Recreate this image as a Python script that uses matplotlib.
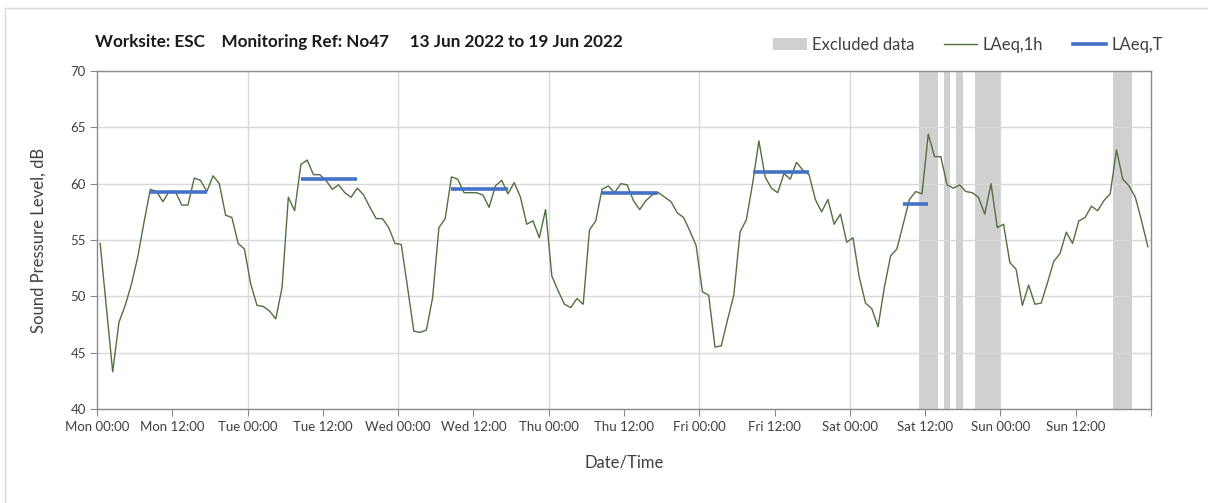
import matplotlib
matplotlib.use('Agg')
import matplotlib.pyplot as plt
from matplotlib.patches import Patch
from matplotlib.lines import Line2D
import numpy as np

plt.rcParams['font.family'] = ['Lato', 'DejaVu Sans']

# hourly LAeq,1h values, Mon 00:00 .. Sun 23:00
mon = [54.7, 49.0, 43.3, 47.7, 49.2, 51.1, 53.5, 56.6, 59.5, 59.3, 58.4, 59.3,
       59.3, 58.1, 58.1, 60.5, 60.3, 59.3, 60.7, 60.0, 57.2, 57.0, 54.7, 54.2]
tue = [51.1, 49.2, 49.1, 48.7, 48.0, 50.8, 58.8, 57.6, 61.7, 62.1, 60.8, 60.8,
       60.3, 59.5, 59.9, 59.2, 58.8, 59.6, 59.0, 57.9, 56.9, 56.9, 56.1, 54.7]
wed = [54.6, 50.8, 46.9, 46.8, 47.0, 49.9, 56.1, 56.9, 60.6, 60.4, 59.2, 59.2,
       59.2, 59.0, 57.9, 59.8, 60.3, 59.1, 60.1, 58.8, 56.4, 56.7, 55.2, 57.7]
thu = [51.8, 50.5, 49.3, 49.0, 49.8, 49.3, 55.9, 56.7, 59.5, 59.8, 59.2, 60.0,
       59.9, 58.5, 57.7, 58.5, 59.0, 59.2, 58.8, 58.4, 57.4, 57.0, 55.8, 54.5]
fri = [50.4, 50.1, 45.5, 45.6, 47.9, 50.1, 55.7, 56.8, 60.0, 63.8, 60.6, 59.6,
       59.2, 60.9, 60.4, 61.9, 61.2, 60.8, 58.6, 57.5, 58.6, 56.4, 57.3, 54.8]
sat = [55.2, 51.7, 49.4, 48.9, 47.3, 50.8, 53.6, 54.2, 56.4, 58.6, 59.3, 59.1,
       64.4, 62.4, 62.4, 59.9, 59.6, 59.9, 59.3, 59.2, 58.8, 57.3, 60.0, 56.1]
sun = [56.4, 53.0, 52.4, 49.2, 51.0, 49.3, 49.4, 51.2, 53.1, 53.8, 55.7, 54.7,
       56.7, 57.0, 58.0, 57.6, 58.5, 59.1, 63.0, 60.4, 59.8, 58.8, 56.7, 54.4]
laeq_1h = mon + tue + wed + thu + fri + sat + sun

# LAeq,T per day (Mon..Sat), period start/end hour
laeqt_vals = [59.3, 60.4, 59.5, 59.15, 61.0, 58.2]
laeqt_start = [8, 8, 8, 8, 8, 8]
laeqt_end = [17, 17, 17, 17, 17, 12]

# excluded periods, hours from Mon 00:00
excl_start = [131, 135, 137, 140, 162]
excl_end = [134, 136, 138, 144, 165]

tick_labels = ['Mon 00:00', 'Mon 12:00', 'Tue 00:00', 'Tue 12:00', 'Wed 00:00',
               'Wed 12:00', 'Thu 00:00', 'Thu 12:00', 'Fri 00:00', 'Fri 12:00',
               'Sat 00:00', 'Sat 12:00', 'Sun 00:00', 'Sun 12:00']

fig = plt.figure(figsize=(12.08, 5.03), dpi=100)
ax = fig.add_axes([0.0803, 0.1869, 0.8725, 0.6719])

for s, e in zip(excl_start, excl_end):
    ax.axvspan(s, e, color='#d0d0d0', lw=0, zorder=1)

hours = np.arange(len(laeq_1h)) + 0.5
ax.plot(hours, laeq_1h, color='#52703f', lw=1.0, zorder=3)

for d, v in enumerate(laeqt_vals):
    xs = np.arange(laeqt_start[d], laeqt_end[d] + 1) + d * 24 + 0.5
    ax.plot(xs, [v] * len(xs), color='#4472c4', lw=2.6,
            solid_capstyle='butt', zorder=4)

ax.set_xlim(0, 168)
ax.set_ylim(40, 70)
ax.set_yticks(np.arange(40, 71, 5))
ax.set_xticks(np.arange(0, 168, 12))
ax.set_xticklabels(tick_labels)
ax.set_xticks(np.arange(0, 169, 12), minor=True)
ax.tick_params(axis='x', which='both', length=5, color='#888888',
               labelsize=9.5, labelcolor='#404040', pad=4)
ax.tick_params(axis='y', length=5, color='#888888', labelsize=9.5,
               labelcolor='#404040', pad=3)

ax.grid(axis='y', color='#d9d9d9', lw=1, zorder=0)
for x in range(24, 168, 24):
    ax.axvline(x, color='#d9d9d9', lw=1, zorder=0)
for sp in ax.spines.values():
    sp.set_color('#8c8c8c')
    sp.set_linewidth(1)

ax.set_ylabel('Sound Pressure Level, dB', fontsize=12, color='#404040', labelpad=17)
ax.set_xlabel('Date/Time', fontsize=12, color='#404040', labelpad=15)

fig.text(95 / 1208, 1 - 42 / 503,
         'Worksite: ESC    Monitoring Ref: No47     13 Jun 2022 to 19 Jun 2022',
         fontsize=12.3, fontweight='bold', color='#1a1a1a', va='center', ha='left')

handles = [Patch(facecolor='#d0d0d0', edgecolor='none'),
           Line2D([], [], color='#52703f', lw=1),
           Line2D([], [], color='#4472c4', lw=2.6)]
fig.legend(handles, ['Excluded data', 'LAeq,1h', 'LAeq,T'], ncol=3,
           loc='center', bbox_to_anchor=(968 / 1208, 1 - 45 / 503), frameon=False,
           fontsize=12, handlelength=2.0, handletextpad=0.3, columnspacing=1.8,
           labelcolor='#404040')

# outer chart border
fig.add_artist(Line2D([5 / 1208, 5 / 1208], [0, 1 - 8 / 503], color='#d9d9d9', lw=1,
                      transform=fig.transFigure))
fig.add_artist(Line2D([5 / 1208, 1], [1 - 8 / 503, 1 - 8 / 503], color='#d9d9d9', lw=1,
                      transform=fig.transFigure))

fig.savefig('out.png', dpi=100)
